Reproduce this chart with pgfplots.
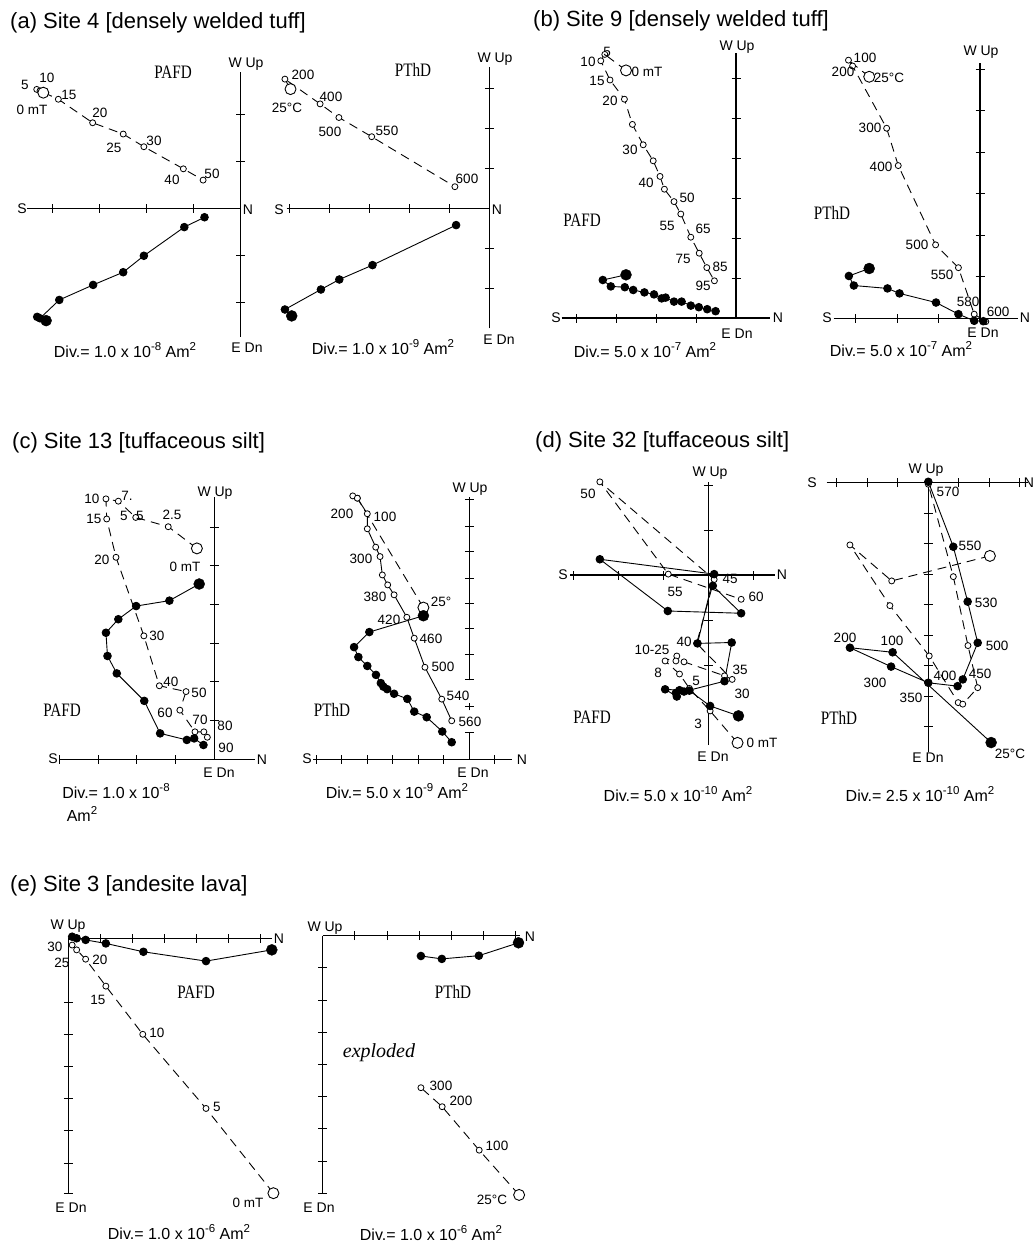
\documentclass[border=0pt]{standalone}
\usepackage{pgfplots}
\pgfplotsset{compat=1.18}
\usepackage{graphicx}
\usepackage{fontspec}
\setmainfont{Liberation Sans}
\newfontfamily\serifff{Liberation Serif}

\newcommand\lf{\fontsize{13.5}{15}\selectfont}
\newcommand\af{\fontsize{14}{16}\selectfont}
\newcommand\df{\fontsize{16}{18}\selectfont}
\newcommand\tf{\fontsize{22}{24}\selectfont}
\newcommand\pf{\serifff\fontsize{19}{21}\selectfont}
\newcommand\sq[1]{\raisebox{0.42em}{\fontsize{11.5}{12}\selectfont #1}}

\tikzset{axl/.style={line width=1.15pt, black}, tkl/.style={line width=1pt, black},
  lab/.style={inner sep=0pt, font=\lf}, alab/.style={inner sep=0pt, font=\af},
  dlab/.style={inner sep=0pt, font=\df}, plab/.style={inner sep=0pt, font=\pf}}
\newcommand\HA[2]{\draw[axl] (axis cs:#1,0) -- (axis cs:#2,0);}
\newcommand\VA[2]{\draw[axl] (axis cs:0,#1) -- (axis cs:0,#2);}
\newcommand\HT[1]{\pgfplotsinvokeforeach{#1}{\draw[tkl] (axis cs:##1,0) ++(0pt,-4.5pt) -- ++(0pt,9pt);}}
\newcommand\VT[1]{\pgfplotsinvokeforeach{#1}{\draw[tkl] (axis cs:0,##1) ++(-4.5pt,0pt) -- ++(9pt,0pt);}}
\newcommand\T[3]{\node[lab] at (#1,#2) {#3};}
\newcommand\A[3]{\node[alab] at (#1,#2) {#3};}
\newcommand\PL[3]{\node[plab] at (#1,#2) {\scalebox{0.8}[1]{#3}};}
\newcommand\DV[4]{\node[dlab, anchor=base] at (#1,#2) {Div.= #3 x 10\sq{#4} Am\sq{2}};}

\pgfplotsset{
 zij/.style={hide axis, anchor=origin, clip=false, enlargelimits=false},
 opn/.style={black, line width=0.9pt, dash pattern=on 9pt off 6pt, mark=*, mark size=3pt, mark options={solid, fill=white, line width=0.8pt}},
 ops/.style={opn, solid},
 fil/.style={black, line width=0.9pt, solid, mark=*, mark size=3.8pt, mark options={solid, fill=black}},
 bigo/.style={black, only marks, mark=*, mark size=5.5pt, mark options={solid, fill=white, line width=0.9pt}},
 bigf/.style={black, only marks, mark=*, mark size=5.5pt, mark options={solid, fill=black}},
}

\begin{document}
\begin{tikzpicture}
% ---------------- (a) PAFD
\begin{axis}[zij, at={(240.7pt,-208.3pt)}, x=47pt, y=47pt, xmin=-4.6, xmax=0.1, ymin=-2.8, ymax=3]
\HA{-4.55}{0}\HT{-4,-3,-2,-1}
\VA{-2.73}{2.9}\VT{-2,-1,1,2}
\addplot[opn] coordinates {(-4.20,2.46) (-4.34,2.53) (-4.27,2.50) (-3.88,2.32) (-3.15,1.82) (-2.50,1.58) (-2.06,1.31) (-1.22,0.84) (-0.80,0.60)};
\addplot[bigo] coordinates {(-4.20,2.46)};
\addplot[fil] coordinates {(-4.14,-2.39) (-4.33,-2.31) (-4.27,-2.34) (-3.86,-1.95) (-3.14,-1.63) (-2.50,-1.36) (-2.06,-1.01) (-1.20,-0.40) (-0.77,-0.19)};
\addplot[bigf] coordinates {(-4.14,-2.39)};
\end{axis}
% ---------------- (a) PThD
\begin{axis}[zij, at={(489.3pt,-208.3pt)}, x=40pt, y=40pt, xmin=-5.2, xmax=0.1, ymin=-3.1, ymax=3.6]
\HA{-5.07}{0}\HT{-5,-4,-3,-2,-1}
\VA{-3.0}{3.54}\VT{-2,-1,1,2,3}
\addplot[opn] coordinates {(-4.97,2.98) (-5.11,3.23) (-4.23,2.61) (-3.76,2.27) (-2.94,1.79) (-0.86,0.54)};
\addplot[bigo] coordinates {(-4.97,2.98)};
\addplot[fil] coordinates {(-4.94,-2.69) (-5.11,-2.53) (-4.21,-2.03) (-3.75,-1.78) (-2.92,-1.42) (-0.83,-0.42)};
\addplot[bigf] coordinates {(-4.94,-2.69)};
\end{axis}
% ---------------- (b) PAFD
\begin{axis}[zij, at={(736pt,-318pt)}, x=40pt, y=40pt, xmin=-4.4, xmax=0.9, ymin=-0.2, ymax=6.7]
\HA{-4.36}{0.85}\HT{-4,-3,-2,-1}
\VA{0}{6.62}\VT{1,2,3,4,5,6}
\addplot[opn] coordinates {(-2.75,6.19) (-3.28,6.59) (-3.38,6.43) (-3.15,5.95) (-2.79,5.47) (-2.59,4.84) (-2.32,4.33) (-2.07,3.93) (-1.90,3.54) (-1.79,3.22) (-1.55,2.91) (-1.38,2.60) (-1.13,2.02) (-0.92,1.62) (-0.73,1.26) (-0.54,0.93)};
\addplot[bigo] coordinates {(-2.75,6.19)};
\addplot[fil] coordinates {(-2.75,1.08) (-3.33,0.95) (-3.13,0.79) (-2.78,0.77) (-2.57,0.70) (-2.29,0.64) (-2.05,0.59) (-1.86,0.49) (-1.76,0.51) (-1.55,0.41) (-1.36,0.41) (-1.13,0.31) (-0.93,0.27) (-0.72,0.22) (-0.51,0.17)};
\addplot[bigf] coordinates {(-2.75,1.08)};
\end{axis}
% ---------------- (b) PThD
\begin{axis}[zij, at={(980pt,-318.3pt)}, x=41.5pt, y=41.5pt, xmin=-3.6, xmax=1, ymin=-0.2, ymax=6.2]
\HA{-3.53}{0.92}\HT{-3,-2,-1}
\VA{-0.1}{6.14}\VT{1,2,3,4,5,6}
\addplot[opn] coordinates {(-2.67,5.82) (-3.17,6.22) (-3.07,6.08) (-2.25,4.58) (-1.97,3.68) (-1.07,1.77) (-0.52,1.22) (-0.14,0.10) (0.14,-0.08)};
\addplot[bigo] coordinates {(-2.67,5.82)};
\addplot[fil] coordinates {(-2.67,1.20) (-3.16,1.02) (-3.04,0.79) (-2.23,0.72) (-1.94,0.60) (-1.06,0.38) (-0.52,0.10) (-0.14,-0.06) (0.08,-0.07)};
\addplot[bigf] coordinates {(-2.67,1.20)};
\end{axis}
% ---------------- (c) PAFD
\begin{axis}[zij, at={(214.3pt,-759.3pt)}, x=38.7pt, y=38.7pt, xmin=-4.1, xmax=1.1, ymin=-0.2, ymax=6.8]
\HA{-4.0}{1.05}\HT{-4,-3,-2,-1}
\VA{0}{6.77}\VT{1,2,3,4,5,6}
\addplot[opn] coordinates {(-0.45,5.45) (-1.19,6.01) (-2.03,6.25) (-2.48,6.67) (-2.80,6.73) (-2.78,6.21) (-2.54,5.22) (-1.82,3.19) (-1.42,1.90) (-0.73,1.75) (-0.89,1.27) (-0.50,0.71) (-0.27,0.71) (-0.18,0.57)};
\addplot[bigo] coordinates {(-0.45,5.45)};
\addplot[fil] coordinates {(-0.39,4.53) (-1.16,4.10) (-2.02,3.96) (-2.48,3.62) (-2.80,3.27) (-2.76,2.67) (-2.52,2.22) (-1.81,1.51) (-1.40,0.67) (-0.71,0.50) (-0.52,0.54) (-0.28,0.37)};
\addplot[bigf] coordinates {(-0.39,4.53)};
\end{axis}
% ---------------- (c) PThD
\begin{axis}[zij, at={(469.3pt,-759.3pt)}, x=25.5pt, y=25.5pt, xmin=-6.2, xmax=1.7, ymin=-0.2, ymax=10.4]
\HA{-6.12}{1.66}\HT{-6,-5,-4,-3,-2,-1,1}
\VA{3.1}{10.27}\VA{1.92}{2.22}\VA{0}{1.06}\VT{1.06,2.07,3.12,4.10,5.12,6.12,7.10,8.15,9.13,10.2}
\addplot[opn] coordinates {(-1.80,5.95) (-4.39,10.24)};
\addplot[ops] coordinates {(-4.57,10.33) (-4.39,10.24) (-4.0,9.63) (-4.0,9.04) (-3.67,8.32) (-3.50,7.95) (-3.41,7.23) (-3.20,6.84) (-2.95,6.45) (-2.45,5.57) (-2.16,4.75) (-1.74,3.61) (-1.08,2.36) (-0.69,1.51)};
\addplot[bigo] coordinates {(-1.80,5.95)};
\addplot[fil] coordinates {(-1.80,5.63) (-3.92,4.99) (-4.52,4.40) (-4.35,4.01) (-4.0,3.66) (-3.66,3.31) (-3.47,2.99) (-3.37,2.85) (-3.22,2.75) (-2.95,2.57) (-2.43,2.37) (-2.16,1.87) (-1.67,1.65) (-1.06,1.09) (-0.69,0.67)};
\addplot[bigf] coordinates {(-1.80,5.63)};
\end{axis}
% ---------------- (d) PAFD
\begin{axis}[zij, at={(708.3pt,-575pt)}, x=45pt, y=45pt, xmin=-3.1, xmax=1.5, ymin=-3.8, ymax=2.1]
\HA{-3.07}{1.48}\HT{-3,-2,-1,1}
\VA{-3.78}{2.07}\VT{-2,-1,1,2}
\addplot[opn] coordinates {(0.65,-3.73) (0.04,-3.02) (-0.42,-2.52) (-0.64,-2.20) (-0.96,-1.91) (-0.70,-1.80) (-0.72,-1.91) (-0.54,-1.93) (0.36,-2.24) (0.53,-2.32) (-0.26,-1.52) (0.13,-0.10) (-2.41,2.07) (-0.89,0.02) (0.73,-0.54)};
\addplot[bigo] coordinates {(0.65,-3.73)};
\addplot[fil] coordinates {(0.67,-3.13) (0.04,-2.91) (-0.42,-2.57) (-0.64,-2.56) (-0.96,-2.54) (-0.70,-2.70) (-0.72,-2.62) (-0.54,-2.59) (0.36,-2.36) (0.52,-1.50) (-0.24,-1.52) (0.13,0.02) (-2.41,0.35) (-0.90,-0.80) (0.73,-0.85) (0.10,-0.24)};
\addplot[bigf] coordinates {(0.67,-3.13)};
\end{axis}
% ---------------- (d) PThD
\begin{axis}[zij, at={(928.3pt,-482.7pt)}, x=30.5pt, y=30.5pt, xmin=-3.4, xmax=3.3, ymin=-8.9, ymax=0.1]
\HA{-3.33}{3.28}\HT{-3,-2,-1,1,2,3}
\VA{-8.82}{0}\VT{-1,-2,-3,-4,-5,-6,-7,-8}
\addplot[opn] coordinates {(2.02,-2.40) (-1.20,-3.22) (-2.57,-2.04) (-1.26,-4.03) (0.03,-5.68) (0.98,-7.21) (1.13,-7.26) (1.62,-6.72) (1.30,-5.34) (0.82,-3.08) (0.0,-0.05)};
\addplot[bigo] coordinates {(2.02,-2.40)};
\addplot[fil] coordinates {(2.06,-8.52) (-1.17,-5.56) (-2.57,-5.41) (-1.22,-6.03) (0.0,-6.56) (0.96,-6.67) (1.13,-6.45) (1.62,-5.25) (1.29,-3.90) (0.82,-2.10) (0.0,0.03)};
\addplot[bigf] coordinates {(2.06,-8.52)};
\end{axis}
% ---------------- (e) PAFD
\begin{axis}[zij, at={(68.3pt,-938.3pt)}, x=32.1pt, y=32.1pt, xmin=-0.1, xmax=6.4, ymin=-8, ymax=0.1]
\HA{0}{6.34}\HT{1,2,3,4,5,6}
\VA{-7.95}{0}\VT{-2,-3,-4,-5,-6,-7,-7.95}
\addplot[opn] coordinates {(6.39,-7.94) (4.29,-5.30) (2.32,-2.99) (1.17,-1.49) (0.54,-0.65) (0.26,-0.36) (0.12,-0.21)};
\addplot[bigo] coordinates {(6.39,-7.94)};
\addplot[fil] coordinates {(6.34,-0.36) (4.29,-0.71) (2.34,-0.42) (1.17,-0.16) (0.54,-0.05) (0.26,0.0) (0.12,0.05)};
\addplot[bigf] coordinates {(6.34,-0.36)};
\end{axis}
% ---------------- (e) PThD
\begin{axis}[zij, at={(322.7pt,-935.7pt)}, x=32.2pt, y=32.2pt, xmin=-0.1, xmax=6.2, ymin=-8.1, ymax=0.1]
\HA{0}{6.13}\HT{1,2,3,4,5,6}
\VA{-8}{0}\VT{-1,-2,-3,-4,-5,-6,-7,-8}
\addplot[opn] coordinates {(6.10,-8.05) (4.86,-6.66) (3.71,-5.31) (3.05,-4.72)};
\addplot[bigo] coordinates {(6.10,-8.05)};
\addplot[fil] coordinates {(6.08,-0.22) (4.85,-0.62) (3.70,-0.72) (3.05,-0.63)};
\addplot[bigf] coordinates {(6.08,-0.22)};
\end{axis}

\begin{scope}[x=1pt,y=-1pt]
% titles
\node[anchor=base west, inner sep=0pt, font=\tf] at (10,28) {(a) Site 4 [densely welded tuff]};
\node[anchor=base west, inner sep=0pt, font=\tf] at (533,27) {(b) Site 9 [densely welded tuff]};
\node[anchor=base west, inner sep=0pt, font=\tf] at (12,448) {(c) Site 13 [tuffaceous silt]};
\node[anchor=base west, inner sep=0pt, font=\tf] at (535,447) {(d) Site 32 [tuffaceous silt]};
\node[anchor=base west, inner sep=0pt, font=\tf] at (10,891) {(e) Site 3 [andesite lava]};
% (a) PAFD
\T{25}{85}{5}\T{47}{78}{10}\T{69}{95}{15}\T{32}{110}{0 mT}\T{100}{113}{20}\T{114}{148}{25}
\T{154}{141}{30}\T{172}{180}{40}\T{212}{174}{50}
\PL{173}{72}{PAFD}\A{246}{64}{W Up}\A{247}{348}{E Dn}\A{22}{209}{S}\A{248}{210}{N}
\DV{125}{357}{1.0}{-8}
% (a) PThD
\T{303}{75}{200}\T{287}{108}{25°C}\T{331}{97}{400}\T{330}{132}{500}\T{387}{131}{550}\T{467}{179}{600}
\PL{413}{70}{PThD}\A{495}{59}{W Up}\A{499}{340}{E Dn}\A{279}{210}{S}\A{497}{210}{N}
\DV{383}{354}{1.0}{-9}
% (b) PAFD
\T{607}{52}{5}\T{588}{62}{10}\T{647}{72}{0 mT}\T{597}{81}{15}\T{610}{101}{20}\T{630}{150}{30}
\T{646}{183}{40}\T{687}{198}{50}\T{667}{226}{55}\T{703}{229}{65}\T{683}{259}{75}\T{720}{267}{85}\T{703}{286}{95}
\PL{582}{220}{PAFD}\A{737}{47}{W Up}\A{737}{334}{E Dn}\A{556}{318}{S}\A{778}{318}{N}
\DV{645}{357}{5.0}{-7}
% (b) PThD
\T{865}{58}{100}\T{843}{72}{200}\T{889}{78}{25°C}\T{870}{128}{300}\T{881}{167}{400}\T{917}{245}{500}
\T{942}{275}{550}\T{968}{302}{580}\T{998}{312}{600}
\PL{832}{213}{PThD}\A{981}{52}{W Up}\A{983}{333}{E Dn}\A{827}{318}{S}\A{1025}{318}{N}
\DV{901}{356}{5.0}{-7}
% (c) PAFD
\T{185}{567}{0 mT}\T{172}{515}{2.5}\T{140}{516}{5}\T{124}{516}{5}\T{127}{496}{7.}\T{92}{499}{10}
\T{94}{519}{15}\T{102}{560}{20}\T{157}{636}{30}\T{171}{682}{40}\T{199}{693}{50}\T{165}{713}{60}
\T{200}{720}{70}\T{225}{726}{80}\T{226}{748}{90}
\PL{62}{710}{PAFD}\A{215}{493}{W Up}\A{219}{773}{E Dn}\A{53}{759}{S}\A{262}{760}{N}
\node[dlab, anchor=base] at (116,798) {Div.= 1.0 x 10\sq{-8}};
\node[dlab, anchor=base] at (82,821) {Am\sq{2}};
% (c) PThD
\T{342}{514}{200}\T{385}{517}{100}\T{361}{559}{300}\T{375}{597}{380}\T{441}{602}{25°}\T{389}{620}{420}
\T{431}{639}{460}\T{443}{667}{500}\T{458}{696}{540}\T{470}{722}{560}
\PL{332}{710}{PThD}\A{470}{489}{W Up}\A{473}{773}{E Dn}\A{307}{759}{S}\A{522}{760}{N}
\DV{397}{798}{5.0}{-9}
% (d) PAFD
\T{588}{494}{50}\T{675}{592}{55}\T{730}{579}{45}\T{756}{597}{60}\T{684}{642}{40}\T{652}{650}{10-25}
\T{658}{673}{8}\T{696}{681}{5}\T{740}{670}{35}\T{742}{694}{30}\T{698}{724}{3}\T{762}{743}{0 mT}
\PL{592}{717}{PAFD}\A{710}{473}{W Up}\A{713}{757}{E Dn}\A{563}{575}{S}\A{782}{575}{N}
\DV{678}{801}{5.0}{-10}
% (d) PThD
\T{948}{492}{570}\T{970}{546}{550}\T{986}{603}{530}\T{997}{646}{500}\T{980}{674}{450}\T{945}{676}{400}
\T{911}{698}{350}\T{875}{683}{300}\T{845}{638}{200}\T{892}{641}{100}\T{1010}{754}{25°C}
\PL{839}{718}{PThD}\A{926}{470}{W Up}\A{928}{758}{E Dn}\A{812}{483}{S}\A{1029}{483}{N}
\DV{920}{801}{2.5}{-10}
% (e) PAFD
\T{248}{1203}{0 mT}\T{217}{1107}{5}\T{157}{1033}{10}\T{98}{1000}{15}\T{100}{960}{20}\T{62}{963}{25}\T{55}{947}{30}
\PL{196}{992}{PAFD}\A{68}{926}{W Up}\A{279}{939}{N}\A{71}{1208}{E Dn}
\DV{179}{1239}{1.0}{-6}
% (e) PThD
\T{441}{1086}{300}\T{461}{1101}{200}\T{497}{1146}{100}\T{492}{1200}{25°C}
\PL{453}{992}{PThD}\A{325}{928}{W Up}\A{530}{937}{N}\A{319}{1208}{E Dn}
\node[inner sep=0pt, font=\serifff\itshape\fontsize{20}{22}\selectfont] at (379,1053) {exploded};
\DV{431}{1240}{1.0}{-6}
\end{scope}
\pgfresetboundingbox
\path[use as bounding box] (0pt,0pt) rectangle (1035pt,-1242pt);
\end{tikzpicture}
\end{document}
